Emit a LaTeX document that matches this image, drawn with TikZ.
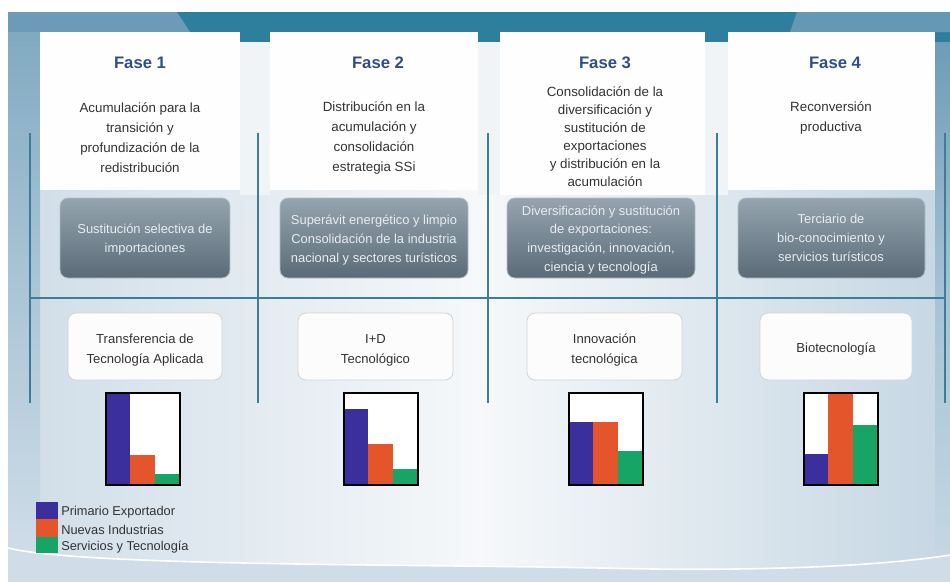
\documentclass[tikz,border=0pt]{standalone}
\usepackage{fontspec}
\setmainfont{Liberation Sans}
\definecolor{bandteal}{HTML}{2E7E9E}
\definecolor{bandlight}{HTML}{6B9BB6}
\definecolor{bgedge}{HTML}{CFDDE8}
\definecolor{bgmid}{HTML}{F6F8FA}
\definecolor{gridblue}{HTML}{3E7D98}
\definecolor{titleblue}{HTML}{2F4F86}
\definecolor{bodygray}{HTML}{333333}
\definecolor{boxtop}{HTML}{95A4AF}
\definecolor{boxbot}{HTML}{5A6B77}
\definecolor{boxedge}{HTML}{B3BEC6}
\definecolor{boxtext}{HTML}{E8ECEF}
\definecolor{barblue}{HTML}{3A2F9C}
\definecolor{barorange}{HTML}{E5552B}
\definecolor{bargreen}{HTML}{17A566}
\definecolor{wave}{HTML}{D0DDE8}
\begin{document}
\begin{tikzpicture}[x=0.75pt,y=-0.75pt,
  title/.style={font=\fontsize{12.5}{15}\selectfont\bfseries, text=titleblue},
  body/.style={font=\fontsize{10}{15}\selectfont, text=bodygray, align=center},
  bodytight/.style={font=\fontsize{10}{13.5}\selectfont, text=bodygray, align=center},
  graytext/.style={font=\fontsize{9.7}{14.2}\selectfont, text=boxtext, align=center},
  lowtext/.style={font=\fontsize{9.8}{15}\selectfont, text=bodygray, align=center},
  legtext/.style={font=\fontsize{9.6}{12}\selectfont, text=bodygray, anchor=west, inner sep=0pt},
  panel/.style={fill=white!97!bgedge},
  graybox/.style={rounded corners=6pt, top color=boxtop, bottom color=boxbot, draw=boxedge, line width=0.6pt},
  lowbox/.style={rounded corners=6pt, fill=white!98!gray, draw=gray!35, line width=0.6pt},
  gridline/.style={draw=gridblue, line width=1.1pt},
  frame/.style={draw=black, line width=1.6pt}
]
\useasboundingbox (0,0) rectangle (950,582);
\fill[white] (0,0) rectangle (950,582);
% background
\shade[left color=bgedge, right color=bgedge!90!bandlight, middle color=bgmid] (8,12) rectangle (950,582);
\shade[top color=bandlight!85!white, bottom color=bgedge, middle color=bandlight!35!bgedge] (8,32) rectangle (40,560);
\shade[top color=bandlight, bottom color=bgedge!90!bandlight, middle color=bandlight!40!bgedge] (935,32) rectangle (950,560);
\fill[bandteal] (8,12) rectangle (950,42);
\fill[bandlight] (8,12) -- (177,12) -- (190,32) -- (8,32) -- cycle;
\fill[bandlight!90!bandteal] (797,12) -- (950,12) -- (950,32) -- (790,32) -- cycle;
\fill[bandlight!85!white] (8,32) rectangle (40,42);
% gaps below tabs
\fill[bgmid!85!bgedge] (240,42) rectangle (270,195);
\fill[bgmid!85!bgedge] (478,42) rectangle (500,195);
\fill[bgmid!85!bgedge] (705,42) rectangle (728,195);
% bottom wave
\fill[wave] (8,548) .. controls (80,566) and (400,564) .. (600,568) .. controls (760,572) and (880,566) .. (950,555) -- (950,582) -- (8,582) -- cycle;
\draw[white, line width=1.2pt] (8,548) .. controls (80,566) and (400,564) .. (600,568) .. controls (760,572) and (880,566) .. (950,555);
% panels
\fill[panel] (40,32) rectangle (240,190);
\fill[panel] (270,32) rectangle (478,190);
\fill[panel] (500,32) rectangle (705,195);
\fill[panel] (728,32) rectangle (935,190);
% grid lines
\draw[gridline] (30,133) -- (30,403);
\draw[gridline] (258,133) -- (258,403);
\draw[gridline] (488,133) -- (488,403);
\draw[gridline] (717,133) -- (717,403);
\draw[gridline] (945,133) -- (945,403);
\draw[gridline] (30,298) -- (945,298);
% titles and texts
\node[title] (t1) at (140,63) {Fase 1};
\node[title] (t2) at (378,63) {Fase 2};
\node[title] (t3) at (605,63) {Fase 3};
\node[title] (t4) at (835,63) {Fase 4};
\node[body] (d1) at (140,138) {Acumulación para la\\transición y\\profundización de la\\redistribución};
\node[body] (d2) at (374,138) {Distribución en la\\acumulación y\\consolidación\\estrategia SSi};
\node[bodytight] (d3) at (605,137) {Consolidación de la\\diversificación y\\sustitución de\\exportaciones\\y distribución en la\\acumulación};
\node[body] (d4) at (831,118) {Reconversión\\productiva};
% gray boxes
\draw[graybox] (60,198) rectangle (230,278);
\draw[graybox] (280,198) rectangle (468,278);
\draw[graybox] (507,198) rectangle (695,278);
\draw[graybox] (738,198) rectangle (925,278);
\node[graytext] (g1) at (145,239.5) {Sustitución selectiva de\\importaciones};
\node[graytext] (g2) at (374,240.5) {Superávit energético y limpio\\Consolidación de la industria\\nacional y sectores turísticos};
\node[graytext] (g3) at (601,240) {Diversificación y sustitución\\de exportaciones:\\investigación, innovación,\\ciencia y tecnología};
\node[graytext] (g4) at (831,238) {Terciario de\\bio-conocimiento y\\servicios turísticos};
% lower boxes
\draw[lowbox] (68,313) rectangle (222,380);
\draw[lowbox] (298,313) rectangle (453,380);
\draw[lowbox] (527,313) rectangle (682,380);
\draw[lowbox] (760,313) rectangle (912,380);
\node[lowtext] (l1) at (145,350) {Transferencia de\\Tecnología Aplicada};
\node[lowtext] (l2) at (375.5,350) {I+D\\Tecnológico};
\node[lowtext] (l3) at (604.5,350) {Innovación\\tecnológica};
\node[lowtext] (l4) at (836,349) {Biotecnología};
% charts
\fill[white] (106,393) rectangle (180,485);
\fill[barblue] (106,393) rectangle (130,485);
\fill[barorange] (130,455) rectangle (155,485);
\fill[bargreen] (155,474) rectangle (180,485);
\draw[frame] (106,393) rectangle (180,485);

\fill[white] (344,393) rectangle (418,485);
\fill[barblue] (344,409) rectangle (368,485);
\fill[barorange] (368,444) rectangle (393,485);
\fill[bargreen] (393,469) rectangle (418,485);
\draw[frame] (344,393) rectangle (418,485);

\fill[white] (569,393) rectangle (643,485);
\fill[barblue] (569,422) rectangle (593,485);
\fill[barorange] (593,422) rectangle (618,485);
\fill[bargreen] (618,451) rectangle (643,485);
\draw[frame] (569,393) rectangle (643,485);

\fill[white] (804,393) rectangle (878,485);
\fill[barblue] (804,454) rectangle (828,485);
\fill[barorange] (828,393) rectangle (853,485);
\fill[bargreen] (853,425) rectangle (878,485);
\draw[frame] (804,393) rectangle (878,485);
% legend
\fill[barblue] (36,502) rectangle (58,519);
\fill[barorange] (36,519) rectangle (58,537);
\fill[bargreen] (36,537) rectangle (58,553);
\node[legtext] (k1) at (61,512) {Primario Exportador};
\node[legtext] (k2) at (61,529.5) {Nuevas Industrias};
\node[legtext] (k3) at (61,547) {Servicios y Tecnología};
\end{tikzpicture}
\end{document}
